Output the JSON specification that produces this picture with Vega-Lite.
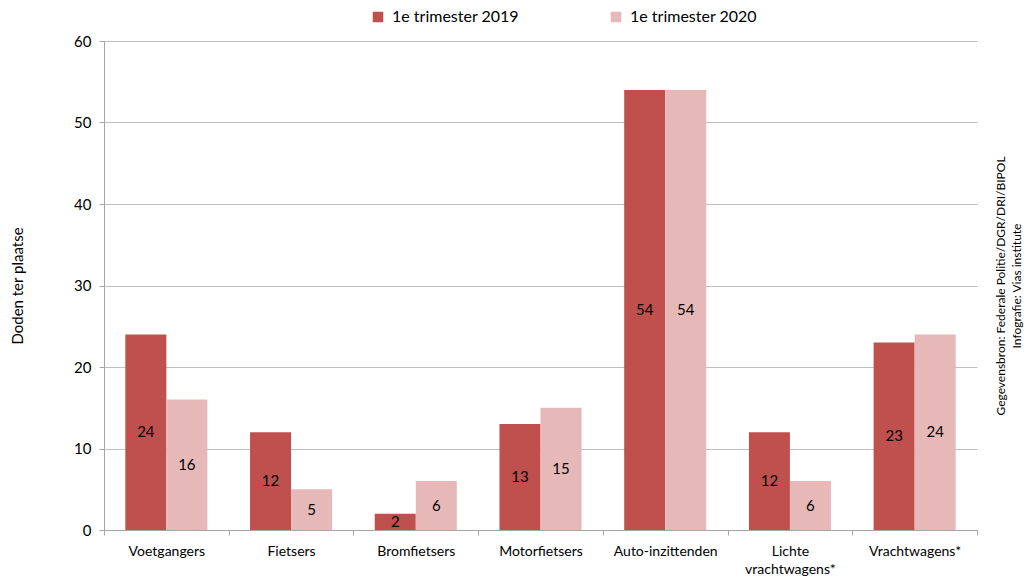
{
  "$schema": "https://vega.github.io/schema/vega-lite/v6.json",
  "width": 873,
  "height": 489,
  "autosize": {"type": "none"},
  "padding": {"left": 104, "top": 41, "right": 49, "bottom": 51},
  "background": "white",
  "config": {
    "font": "Lato",
    "view": {"stroke": null},
    "axis": {"labelFont": "Lato", "titleFont": "Lato", "labelColor": "#000000", "titleColor": "#000000", "titleFontWeight": "normal"}
  },
  "data": {
    "values": [
      {"cat": "Voetgangers", "per": "1e trimester 2019", "v": 24},
      {"cat": "Voetgangers", "per": "1e trimester 2020", "v": 16},
      {"cat": "Fietsers", "per": "1e trimester 2019", "v": 12},
      {"cat": "Fietsers", "per": "1e trimester 2020", "v": 5},
      {"cat": "Bromfietsers", "per": "1e trimester 2019", "v": 2},
      {"cat": "Bromfietsers", "per": "1e trimester 2020", "v": 6},
      {"cat": "Motorfietsers", "per": "1e trimester 2019", "v": 13},
      {"cat": "Motorfietsers", "per": "1e trimester 2020", "v": 15},
      {"cat": "Auto-inzittenden", "per": "1e trimester 2019", "v": 54},
      {"cat": "Auto-inzittenden", "per": "1e trimester 2020", "v": 54},
      {"cat": "Lichte vrachtwagens*", "per": "1e trimester 2019", "v": 12},
      {"cat": "Lichte vrachtwagens*", "per": "1e trimester 2020", "v": 6},
      {"cat": "Vrachtwagens*", "per": "1e trimester 2019", "v": 23},
      {"cat": "Vrachtwagens*", "per": "1e trimester 2020", "v": 24}
    ]
  },
  "encoding": {
    "x": {
      "field": "cat", "type": "nominal", "sort": null,
      "scale": {"paddingInner": 0, "paddingOuter": 0},
      "axis": {
        "title": null, "labelAngle": 0, "labelFontSize": 14, "labelPadding": 9,
        "tickBand": "extent", "tickSize": 5, "tickColor": "#A6A6A6",
        "domainColor": "#A6A6A6", "grid": false,
        "labelExpr": "datum.label == 'Lichte vrachtwagens*' ? ['Lichte', 'vrachtwagens*'] : datum.label",
        "labelLineHeight": 18
      }
    },
    "xOffset": {
      "field": "per", "type": "nominal",
      "scale": {"paddingInner": 0, "paddingOuter": 0.52}
    }
  },
  "layer": [
    {
      "mark": {"type": "bar"},
      "encoding": {
        "y": {
          "field": "v", "type": "quantitative",
          "scale": {"domain": [0, 60], "nice": false},
          "axis": {
            "title": "Doden ter plaatse", "titleFontSize": 15, "titlePadding": 48,
            "values": [0, 10, 20, 30, 40, 50, 60],
            "labelFontSize": 15, "labelPadding": 8, "tickSize": 5,
            "tickColor": "#A6A6A6", "domainColor": "#A6A6A6",
            "gridColor": "#BFBFBF", "gridWidth": 1
          }
        },
        "color": {
          "field": "per", "type": "nominal",
          "scale": {"domain": ["1e trimester 2019", "1e trimester 2020"], "range": ["#C0504D", "#E6B9B8"]},
          "legend": {
            "title": null, "orient": "none", "direction": "horizontal",
            "legendX": 266, "legendY": -32,
            "symbolType": "square", "symbolSize": 110, "symbolStrokeWidth": 0,
            "labelFontSize": 16, "labelColor": "#000000", "labelFont": "Lato",
            "columnPadding": 89, "labelOffset": 6
          }
        }
      }
    },
    {
      "transform": [{"calculate": "datum.v / 2", "as": "mid"}],
      "mark": {"type": "text", "fontSize": 15, "color": "#000000", "baseline": "middle"},
      "encoding": {
        "y": {
          "field": "mid", "type": "quantitative",
          "axis": {
            "orient": "right", "labels": false, "ticks": false, "domain": false, "grid": false,
            "title": ["Gegevensbron: Federale Politie/DGR/DRI/BIPOL", "Infografie: Vias institute"],
            "titleAngle": 270, "titleFontSize": 12, "titlePadding": 14, "titleLineHeight": 16
          }
        },
        "text": {"field": "v", "type": "quantitative"}
      }
    }
  ],
  "resolve": {"axis": {"y": "independent"}}
}
